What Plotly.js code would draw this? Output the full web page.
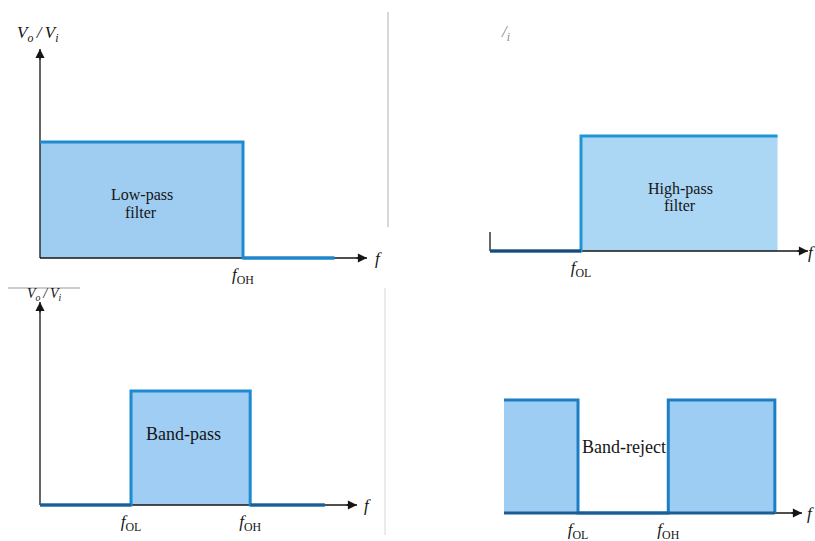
<!DOCTYPE html>
<html>
<head>
<meta charset="utf-8">
<script src="https://cdn.plot.ly/plotly-3.0.1.min.js"></script>
<style>
  html, body { margin: 0; padding: 0; background: #ffffff; }
  #chart { width: 815px; height: 541px; }
</style>
</head>
<body>
<div id="chart"></div>
<script>
// Ideal filter responses: normalized frequency (f / f_O) against gain V_o/V_i.
const lowFreq = [0, 1, 1, 1.45];
const lowGain = [1, 1, 0, 0];
const highFreq = [0, 1, 1, 3.16];
const highGain = [0, 0, 1, 1];
const bandFreq = [0, 1, 1, 2.31, 2.31, 3.13];
const bandGain = [0, 0, 1, 1, 0, 0];
const rejectFreq = [0, 1, 1, 2.22, 2.22, 3.66, 3.66];
const rejectGain = [1, 1, 0, 0, 1, 1, 0];

// Corner-frequency tick labels
const F_OL = '<i>f</i><sub>OL</sub>';
const F_OH = '<i>f</i><sub>OH</sub>';
const lowTickVals = [1];
const lowTickText = [F_OH];
const highTickVals = [1];
const highTickText = [F_OL];
const bandTickVals = [1, 2.31];
const bandTickText = [F_OL, F_OH];
const rejectTickVals = [1, 2.22];
const rejectTickText = [F_OL, F_OH];

const W = 815, H = 541;
const fx = p => p / W;
const fy = p => 1 - p / H;
const SERIF = 'Liberation Serif, Times New Roman, serif';
const INK = '#151515';

// Panel frames in pixels: origin (x0,y0), axis tips (x1,y1), pixels per unit (sx,sy)
const panels = [
  { freq: lowFreq, gain: lowGain, tv: lowTickVals, tt: lowTickText,
    box: { x0: 40, y0: 258, x1: 367, y1: 49, sx: 203, sy: 116 },
    fill: '#9fcdf1', edge: '#1e8ad0', stop: '#1f86c9', yAxis: 'full', baseline: 'stop' },
  { freq: highFreq, gain: highGain, tv: highTickVals, tt: highTickText,
    box: { x0: 490, y0: 251, x1: 808, y1: 100, sx: 91, sy: 115 },
    fill: '#abd6f4', edge: '#1f95d6', stop: '#1d4a74', yAxis: 'stub', baseline: 'stop' },
  { freq: bandFreq, gain: bandGain, tv: bandTickVals, tt: bandTickText,
    box: { x0: 40, y0: 505, x1: 357, y1: 302, sx: 91, sy: 114 },
    fill: '#9fcdf3', edge: '#1e8ad0', stop: '#1c5f98', yAxis: 'full', baseline: 'stop' },
  { freq: rejectFreq, gain: rejectGain, tv: rejectTickVals, tt: rejectTickText,
    box: { x0: 504, y0: 513, x1: 802, y1: 380, sx: 74, sy: 113 },
    fill: '#9ecdf4', edge: '#1c7fc6', stop: '#1b5d95', yAxis: 'none', baseline: 'full' }
];

const PAD = 4;
const traces = [];
const layout = {
  width: W, height: H,
  margin: { l: 0, r: 0, t: 0, b: 0 },
  paper_bgcolor: '#ffffff', plot_bgcolor: 'rgba(0,0,0,0)',
  showlegend: false,
  annotations: [],
  shapes: []
};

panels.forEach((p, i) => {
  const n = i === 0 ? '' : String(i + 1);
  const xa = 'x' + n, ya = 'y' + n;
  const b = p.box;
  const xMax = (b.x1 - b.x0) / b.sx;
  const yMax = (b.y0 - b.y1) / b.sy;

  layout['xaxis' + n] = {
    domain: [fx(b.x0 - PAD), fx(b.x1)],
    range: [-PAD / b.sx, xMax],
    anchor: ya,
    showgrid: false, zeroline: false, showline: false,
    ticks: '', tickmode: 'array', tickvals: p.tv, ticktext: p.tt,
    tickfont: { family: SERIF, size: 17, color: INK },
    fixedrange: true
  };
  layout['yaxis' + n] = {
    domain: [fy(b.y0 + PAD), fy(b.y1)],
    range: [-PAD / b.sy, yMax],
    anchor: xa,
    showgrid: false, zeroline: false, showline: false,
    showticklabels: false, ticks: '',
    fixedrange: true
  };

  // passband area
  traces.push({
    x: p.freq, y: p.gain, xaxis: xa, yaxis: ya,
    type: 'scatter', mode: 'lines', fill: 'tozeroy',
    fillcolor: p.fill, line: { width: 0 }, hoverinfo: 'skip'
  });

  // frequency axis
  traces.push({
    x: [0, xMax], y: [0, 0], xaxis: xa, yaxis: ya,
    type: 'scatter', mode: 'lines', line: { color: INK, width: 1.3 }, hoverinfo: 'skip'
  });
  // gain axis
  if (p.yAxis !== 'none') {
    const top = p.yAxis === 'full' ? yMax : 0.165;
    traces.push({
      x: [0, 0], y: [0, top], xaxis: xa, yaxis: ya,
      type: 'scatter', mode: 'lines', line: { color: INK, width: 1.3 }, hoverinfo: 'skip'
    });
  }

  // response outline
  traces.push({
    x: p.freq, y: p.gain, xaxis: xa, yaxis: ya,
    type: 'scatter', mode: 'lines', line: { color: p.edge, width: 3 }, hoverinfo: 'skip'
  });

  // stop-band baseline
  const sx = [], sy = [];
  if (p.baseline === 'full') {
    sx.push(p.freq[0], p.freq[p.freq.length - 1]);
    sy.push(0, 0);
  } else {
    for (let k = 0; k < p.freq.length - 1; k++) {
      if (p.gain[k] === 0 && p.gain[k + 1] === 0) {
        sx.push(p.freq[k], p.freq[k + 1], null);
        sy.push(0, 0, null);
      }
    }
  }
  traces.push({
    x: sx, y: sy, xaxis: xa, yaxis: ya,
    type: 'scatter', mode: 'lines', line: { color: p.stop, width: 3 }, hoverinfo: 'skip'
  });

  // arrowheads
  const arrow = { xref: xa, yref: ya, text: '', showarrow: true, arrowhead: 2,
                  arrowsize: 1.4, arrowwidth: 1.3, arrowcolor: INK, standoff: 0 };
  layout.annotations.push(Object.assign({}, arrow, { x: xMax, y: 0, ax: -12, ay: 0 }));
  if (p.yAxis === 'full') {
    layout.annotations.push(Object.assign({}, arrow, { x: 0, y: yMax, ax: 0, ay: 12 }));
  }
});

function label(text, x, y, size, color) {
  layout.annotations.push({
    xref: 'paper', yref: 'paper', x: fx(x), y: fy(y),
    xanchor: 'center', yanchor: 'middle', showarrow: false, text: text,
    font: { family: SERIF, size: size, color: color || INK }
  });
}

// panel captions
label('Low-pass', 142, 195, 16);
label('filter', 141, 212, 16);
label('High-pass', 680, 189, 16);
label('filter', 680, 205, 16);
label('Band-pass', 183, 434, 18);
label('Band-reject', 624, 447, 18);

// axis titles
const GAIN = '<i>V<sub>o</sub>\u2009/\u2009V<sub>i</sub></i>';
label(GAIN, 38, 34, 17);
label(GAIN, 44, 294, 14);
label('<i>/<sub>i</sub></i>', 505, 33, 17, '#8a8a8a');
label('<i>f</i>', 378, 258, 17);
label('<i>f</i>', 367, 505, 17);
label('<i>f</i>', 810, 513, 17);
label('<i>f</i>', 811, 252, 17);

// scan edges between the panels
layout.shapes.push(
  { type: 'line', xref: 'paper', yref: 'paper', x0: fx(388), x1: fx(388), y0: fy(12), y1: fy(227),
    line: { color: '#cbcbcb', width: 1.5 } },
  { type: 'line', xref: 'paper', yref: 'paper', x0: fx(385), x1: fx(385), y0: fy(288), y1: fy(535),
    line: { color: '#e4e4e4', width: 1.5 } },
  { type: 'line', xref: 'paper', yref: 'paper', x0: fx(8), x1: fx(80), y0: fy(288), y1: fy(288),
    line: { color: '#9a9a9a', width: 1 } }
);

Plotly.newPlot('chart', traces, layout, { displayModeBar: false, staticPlot: true });
</script>
</body>
</html>
